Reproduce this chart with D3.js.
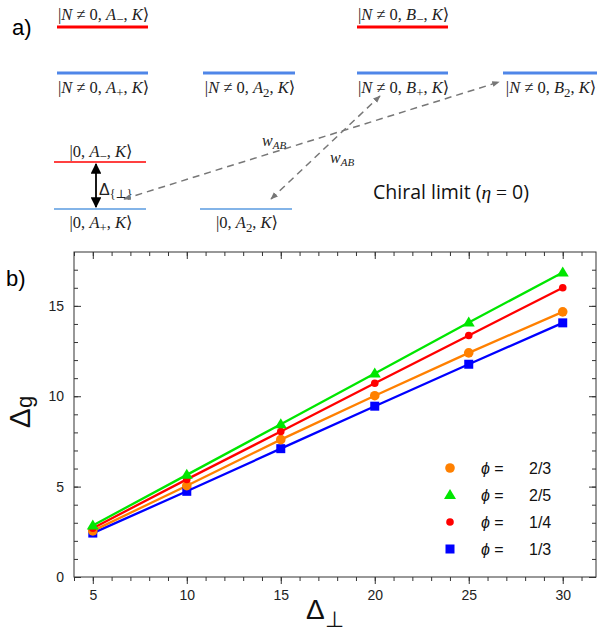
<!DOCTYPE html>
<html><head><meta charset="utf-8">
<script src="https://cdn.jsdelivr.net/npm/d3@7/dist/d3.min.js"></script>
<style>body{margin:0;background:#fff}svg{display:block}</style>
</head><body>
<svg id="c" width="597" height="633"></svg>
<script>
const xValues = [5, 10, 15, 20, 25, 30];
const seriesNames = ["2/3", "2/5", "1/4", "1/3"];
const seriesColors = ["#ff8000", "#00e600", "#ff0000", "#0000ff"];
const seriesShapes = ["bigcircle", "triangle", "circle", "square"];
const vals23 = [2.55, 5.05, 7.6, 10.03, 12.4, 14.67];
const vals25 = [2.85, 5.65, 8.45, 11.26, 14.08, 16.85];
const vals14 = [2.7, 5.4, 8.05, 10.72, 13.36, 16.0];
const vals13 = [2.43, 4.74, 7.1, 9.45, 11.77, 14.06];
const seriesValues = [vals23, vals25, vals14, vals13];
const xTicks = [5, 10, 15, 20, 25, 30];
const yTicks = [0, 5, 10, 15];

const svg = d3.select("#c");

// ---------- Panel a ----------
const serif = "'Liberation Serif','DejaVu Serif',serif";
const sans = "'Liberation Sans',Arial,sans-serif";
svg.append("text").attr("x", 12).attr("y", 35).attr("font-family", sans)
  .attr("font-size", 22).text("a)");

function ket(g, x, y, parts, size) {
  size = size || 16.5;
  const t = g.append("text").attr("x", x).attr("y", y).attr("text-anchor", "middle")
    .attr("font-family", serif).attr("font-size", size).attr("fill", "#222");
  parts.forEach(p => {
    const s = t.append("tspan").text(p.t);
    if (p.i) s.attr("font-style", "italic");
    if (p.sub) s.attr("font-size", size * 0.78).attr("dy", 4);
    if (p.up) s.attr("dy", -4);
  });
  return t;
}
function nket(letter, sub) {
  return [{t:"|"},{t:"N",i:1},{t:" ≠ 0, "},{t:letter,i:1},{t:sub,sub:1},{t:", ",up:1},{t:"K",i:1},{t:"⟩"}];
}
function zket(letter, sub) {
  return [{t:"|0, "},{t:letter,i:1},{t:sub,sub:1},{t:", ",up:1},{t:"K",i:1},{t:"⟩"}];
}
const levels = [
  {x1:57,x2:148,y:27,c:"#ff0000",w:3,lab:nket("A","−"),ly:20},
  {x1:57,x2:148,y:73,c:"#4f86e8",w:3,lab:nket("A","+"),ly:93},
  {x1:203,x2:295,y:73,c:"#4f86e8",w:3,lab:nket("A","2"),ly:93},
  {x1:357,x2:448,y:27,c:"#ff0000",w:3,lab:nket("B","−"),ly:20},
  {x1:357,x2:448,y:73,c:"#4f86e8",w:3,lab:nket("B","+"),ly:93},
  {x1:503,x2:597,y:73,c:"#4f86e8",w:3,lab:nket("B","2"),ly:93},
  {x1:54,x2:146,y:162,c:"#ff0000",w:1.5,lab:zket("A","−"),ly:157},
  {x1:54,x2:146,y:209,c:"#5a9be0",w:1.5,lab:zket("A","+"),ly:228},
  {x1:200,x2:292,y:209,c:"#5a9be0",w:1.5,lab:zket("A","2"),ly:228}
];
const ga = svg.append("g");
levels.forEach(l => {
  ga.append("line").attr("x1", l.x1).attr("x2", l.x2).attr("y1", l.y).attr("y2", l.y)
    .attr("stroke", l.c).attr("stroke-width", l.w);
  ket(ga, (l.x1 + l.x2) / 2 + 1, l.ly, l.lab);
});

const defs = svg.append("defs");
defs.append("marker").attr("id", "ab").attr("viewBox", "0 0 10 10").attr("refX", 9).attr("refY", 5)
  .attr("markerWidth", 6).attr("markerHeight", 6).attr("orient", "auto-start-reverse")
  .append("path").attr("d", "M0,0L10,5L0,10z").attr("fill", "#000");
defs.append("marker").attr("id", "ag").attr("viewBox", "0 0 10 10").attr("refX", 9).attr("refY", 5)
  .attr("markerWidth", 5).attr("markerHeight", 5).attr("orient", "auto-start-reverse")
  .append("path").attr("d", "M0,1L10,5L0,9z").attr("fill", "#777");

ga.append("line").attr("x1", 96).attr("x2", 96).attr("y1", 164).attr("y2", 207)
  .attr("stroke", "#000").attr("stroke-width", 1.8)
  .attr("marker-start", "url(#ab)").attr("marker-end", "url(#ab)");
const dl = ga.append("text").attr("x", 99).attr("y", 195).attr("font-family", sans)
  .attr("font-size", 16).attr("fill", "#222");
dl.append("tspan").text("Δ");
dl.append("tspan").attr("font-size", 12).attr("dy", 3).attr("font-family", serif).text("{⊥}");

[[124, 199, 499, 82], [271, 199, 380, 96]].forEach(d => {
  ga.append("line").attr("x1", d[0]).attr("y1", d[1]).attr("x2", d[2]).attr("y2", d[3])
    .attr("stroke", "#777").attr("stroke-width", 1.5).attr("stroke-dasharray", "7,5")
    .attr("marker-start", "url(#ag)").attr("marker-end", "url(#ag)");
});
function wab(x, y) {
  const t = ga.append("text").attr("x", x).attr("y", y).attr("font-family", serif)
    .attr("font-size", 16).attr("fill", "#222");
  t.append("tspan").attr("font-style", "italic").text("w");
  t.append("tspan").attr("font-style", "italic").attr("font-size", 11).attr("dy", 3).text("AB");
}
wab(262, 146);
wab(330, 163);
const cl = ga.append("text").attr("x", 373).attr("y", 199).attr("font-family", "'Open Sans','Noto Sans',sans-serif")
  .attr("font-size", 19.5).attr("fill", "#111");
cl.append("tspan").text("Chiral limit (");
cl.append("tspan").attr("font-family", serif).attr("font-style", "italic").text("η");
cl.append("tspan").attr("font-family", serif).text(" = ");
cl.append("tspan").text("0)");

// ---------- Panel b ----------
svg.append("text").attr("x", 6).attr("y", 286).attr("font-family", sans)
  .attr("font-size", 22).text("b)");

const L = 74, R = 596, T = 252, B = 577;
const x = d3.scaleLinear().domain([4, 31.77]).range([L, R]);
const y = d3.scaleLinear().domain([0, 17.98]).range([B, T]);
const gb = svg.append("g");
const axisCol = "#333";
gb.append("rect").attr("x", L).attr("y", T).attr("width", R - L).attr("height", B - T)
  .attr("fill", "none").attr("stroke", axisCol).attr("stroke-width", 1);

const xMinor = d3.range(4, 32, 1);
const yMinor = d3.range(0, 18, 1);
gb.append("g").attr("transform", `translate(0,${B})`)
  .call(d3.axisBottom(x).tickValues(xMinor).tickSize(4).tickFormat(""))
  .call(g => g.select(".domain").remove());
gb.append("g").attr("transform", `translate(0,${B})`)
  .call(d3.axisBottom(x).tickValues(xTicks).tickSize(7).tickPadding(6).tickFormat(d3.format("d")))
  .call(g => g.select(".domain").remove());
gb.append("g").attr("transform", `translate(0,${T})`)
  .call(d3.axisBottom(x).tickValues(xMinor).tickSize(4).tickFormat(""))
  .call(g => g.select(".domain").remove());
gb.append("g").attr("transform", `translate(0,${T})`)
  .call(d3.axisBottom(x).tickValues(xTicks).tickSize(7).tickFormat(""))
  .call(g => g.select(".domain").remove());
gb.append("g").attr("transform", `translate(${L},0)`)
  .call(d3.axisLeft(y).tickValues(yMinor).tickSize(-4).tickFormat(""))
  .call(g => g.select(".domain").remove());
gb.append("g").attr("transform", `translate(${L},0)`)
  .call(d3.axisLeft(y).tickValues(yTicks).tickSize(-7).tickPadding(10).tickFormat(d3.format("d")))
  .call(g => g.select(".domain").remove());
gb.append("g").attr("transform", `translate(${R},0)`)
  .call(d3.axisLeft(y).tickValues(yMinor).tickSize(4).tickFormat(""))
  .call(g => g.select(".domain").remove());
gb.append("g").attr("transform", `translate(${R},0)`)
  .call(d3.axisLeft(y).tickValues(yTicks).tickSize(7).tickFormat(""))
  .call(g => g.select(".domain").remove());
gb.selectAll(".tick line").attr("stroke", axisCol);
gb.selectAll(".tick text").attr("font-family", sans).attr("font-size", 14).attr("fill", "#222");

const line = d3.line().x((d, i) => x(xValues[i])).y(d => y(d));
function marker(g, shape, cx, cy, col) {
  if (shape === "bigcircle") g.append("circle").attr("cx", cx).attr("cy", cy).attr("r", 4.8).attr("fill", col);
  else if (shape === "circle") g.append("circle").attr("cx", cx).attr("cy", cy).attr("r", 3.8).attr("fill", col);
  else if (shape === "square") g.append("rect").attr("x", cx - 4.5).attr("y", cy - 4.5).attr("width", 9).attr("height", 9).attr("fill", col);
  else g.append("path").attr("d", `M${cx},${cy - 6}L${cx + 6},${cy + 4}L${cx - 6},${cy + 4}Z`).attr("fill", col);
}
const drawOrder = [3, 0, 2, 1];
drawOrder.forEach(k => {
  gb.append("path").attr("d", line(seriesValues[k])).attr("fill", "none")
    .attr("stroke", seriesColors[k]).attr("stroke-width", 2.3);
});
drawOrder.forEach(k => {
  seriesValues[k].forEach((v, i) => marker(gb, seriesShapes[k], x(xValues[i]), y(v), seriesColors[k]));
});

// legend
const ly0 = 468, ldy = 27;
seriesNames.forEach((n, k) => {
  const yy = ly0 + k * ldy;
  marker(gb, seriesShapes[k], 450, yy, seriesColors[k]);
  const t = gb.append("text").attr("x", 481).attr("y", yy + 6).attr("font-family", sans)
    .attr("font-size", 16).attr("fill", "#111");
  t.append("tspan").attr("font-style", "italic").text("ϕ");
  t.append("tspan").text(" =");
  gb.append("text").attr("x", 529).attr("y", yy + 6).attr("font-family", sans)
    .attr("font-size", 16).attr("fill", "#111").text(n);
});

// axis titles
const yl = svg.append("text").attr("transform", "translate(30,412) rotate(-90)")
  .attr("text-anchor", "middle").attr("font-family", sans).attr("font-size", 30).attr("fill", "#111");
yl.append("tspan").text("Δ");
yl.append("tspan").attr("font-size", 22).attr("dy", 2).text("g");
const xl = svg.append("text").attr("x", 306).attr("y", 619).attr("font-family", sans)
  .attr("font-size", 28).attr("fill", "#111");
xl.append("tspan").text("Δ");
xl.append("tspan").attr("font-size", 22).attr("dy", 8).text("⊥");
</script>
</body></html>
